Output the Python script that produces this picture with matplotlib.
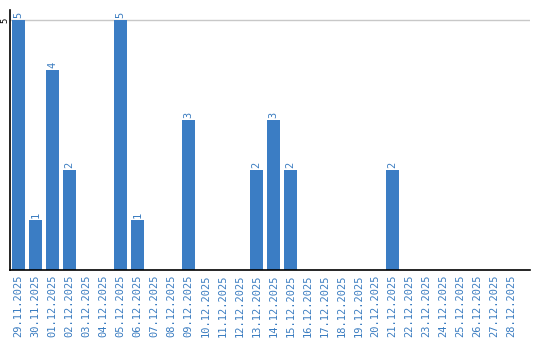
import matplotlib
matplotlib.use("Agg")
import matplotlib.pyplot as plt

dates = ["29.11.2025", "30.11.2025", "01.12.2025", "02.12.2025", "03.12.2025",
         "04.12.2025", "05.12.2025", "06.12.2025", "07.12.2025", "08.12.2025",
         "09.12.2025", "10.12.2025", "11.12.2025", "12.12.2025", "13.12.2025",
         "14.12.2025", "15.12.2025", "16.12.2025", "17.12.2025", "18.12.2025",
         "19.12.2025", "20.12.2025", "21.12.2025", "22.12.2025", "23.12.2025",
         "24.12.2025", "25.12.2025", "26.12.2025", "27.12.2025", "28.12.2025"]
values = [5, 1, 4, 2, 0, 0, 5, 1, 0, 0, 3, 0, 0, 0, 2, 3, 2, 0, 0, 0, 0, 0, 2,
          0, 0, 0, 0, 0, 0, 0]
y_ticks = [5]

bar_color = "#3b7dc4"
label_color = "#3a7cc0"

fig = plt.figure(figsize=(5.4, 3.4), dpi=100)
ax = fig.add_axes([10/540, 70/340, 520/540, 260/340])
x = list(range(len(dates)))
ax.bar(x, values, width=0.82, color=bar_color, zorder=2)
ax.set_xlim(-0.5, -0.5 + 520/17)
ax.set_ylim(0, 5.2)
for t in y_ticks:
    ax.axhline(t, color="#c8c8c8", lw=1, zorder=1)
    ax.annotate(str(t), xy=(0, t), xycoords=("axes fraction", "data"),
                xytext=(-5, 0), textcoords="offset pixels", rotation=90,
                ha="center", va="center", fontsize=6.5,
                family="DejaVu Sans Mono", color="black")

for xi, v in zip(x, values):
    if v > 0:
        ax.text(xi, v + 0.04, str(v), rotation=90, ha="center", va="bottom",
                color=label_color, fontsize=7.5, family="DejaVu Sans Mono")

ax.set_xticks(x)
ax.set_xticklabels(dates, rotation=90, color=label_color, fontsize=7.5,
                   family="DejaVu Sans Mono")
ax.set_yticks([])
ax.tick_params(axis="both", length=0, pad=3)
for s in ["top", "right"]:
    ax.spines[s].set_visible(False)
ax.spines["left"].set_color("black")
ax.spines["bottom"].set_color("black")
ax.spines["left"].set_linewidth(1.2)
ax.spines["bottom"].set_linewidth(1.2)

fig.savefig("out.png", dpi=100)
